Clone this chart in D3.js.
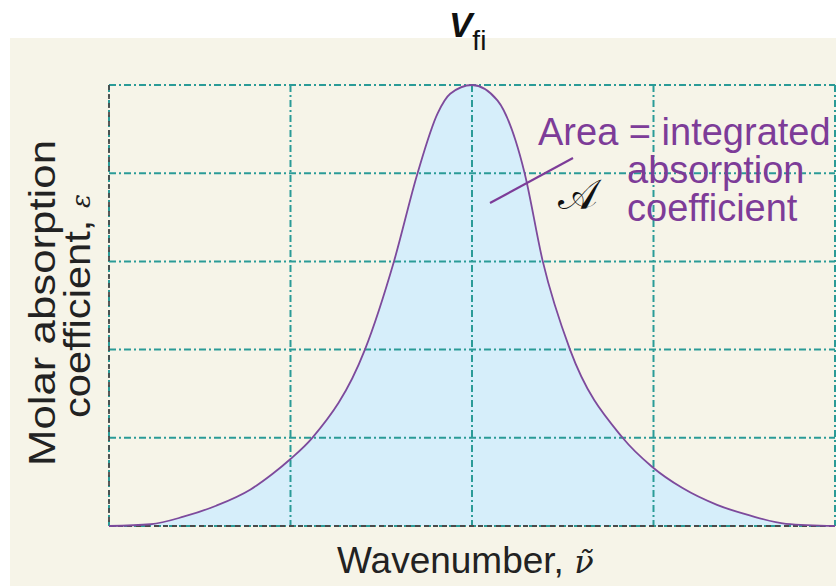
<!DOCTYPE html>
<html>
<head>
<meta charset="utf-8">
<script src="https://cdn.jsdelivr.net/npm/d3@7"></script>
<style>
  html, body { margin: 0; padding: 0; background: #ffffff; }
  svg { display: block; }
</style>
</head>
<body>
<svg></svg>
<script>
(function (d3) {
    'use strict';

    // band shape (x in grid units, y relative to peak)
    const wavenumber = [0, 0.23, 0.41, 0.59, 0.78, 0.9, 1.0, 1.12, 1.41, 1.57, 1.70, 1.81, 1.88, 2.0,
                        2.14, 2.24, 2.29, 2.39, 2.54, 2.83, 2.99, 3.16, 3.35, 3.53, 3.73, 4.0];
    const epsilon = [0, 0.004, 0.021, 0.046, 0.083, 0.118, 0.152, 0.2, 0.4, 0.6, 0.8, 0.935, 0.98, 1.0,
                     0.965, 0.874, 0.8, 0.6, 0.4, 0.2, 0.135, 0.086, 0.048, 0.024, 0.005, 0];
    const xGridTicks = [0, 1, 2, 3, 4];
    const yGridTicks = [0, 0.2, 0.4, 0.6, 0.8, 1.0];
    const annotationLines = ['Area = integrated', 'absorption', 'coefficient'];

    const width = 836;
    const height = 586;
    const margin = { top: 85, right: 1, bottom: 60, left: 109 };
    const innerWidth = width - margin.left - margin.right;
    const innerHeight = height - margin.top - margin.bottom;

    const svg = d3.select('svg')
        .attr('width', width)
        .attr('height', height);

    // cream panel
    svg.append('rect')
        .attr('x', 10).attr('y', 38)
        .attr('width', width - 10).attr('height', height - 38)
        .attr('fill', '#f6f4e8');

    const g = svg.append('g')
        .attr('transform', `translate(${margin.left}, ${margin.top})`);

    const x = d3.scaleLinear().domain([0, 4]).range([0, innerWidth]);
    const y = d3.scaleLinear().domain([0, 1]).range([innerHeight, 0]);

    const data = wavenumber.map((w, i) => ({ w, e: epsilon[i] }));

    const area = d3.area()
        .x(d => x(d.w))
        .y0(y(0))
        .y1(d => y(d.e))
        .curve(d3.curveMonotoneX);
    const line = d3.line()
        .x(d => x(d.w))
        .y(d => y(d.e))
        .curve(d3.curveMonotoneX);

    g.append('path')
        .datum(data)
        .attr('d', area)
        .attr('fill', '#d6eefa');

    // dash-dot grid
    const teal = '#2b9b97';
    const dashDot = '7,3,2,3';
    g.selectAll('line.vgrid').data(xGridTicks)
        .enter().append('line')
            .attr('class', 'vgrid')
            .attr('x1', d => x(d)).attr('x2', d => x(d))
            .attr('y1', 0).attr('y2', innerHeight)
            .attr('stroke', teal)
            .attr('stroke-width', 2)
            .attr('stroke-dasharray', dashDot);
    g.selectAll('line.hgrid').data(yGridTicks)
        .enter().append('line')
            .attr('class', 'hgrid')
            .attr('x1', 0).attr('x2', innerWidth)
            .attr('y1', d => y(d)).attr('y2', d => y(d))
            .attr('stroke', teal)
            .attr('stroke-width', 2)
            .attr('stroke-dasharray', dashDot);

    // dark dashed axes on left and bottom
    g.append('path')
        .attr('d', `M0,0V${innerHeight}H${innerWidth}`)
        .attr('fill', 'none')
        .attr('stroke', '#4a4a4a')
        .attr('stroke-width', 1.8)
        .attr('stroke-dasharray', '5,4');

    g.append('path')
        .datum(data)
        .attr('d', line)
        .attr('fill', 'none')
        .attr('stroke', '#7d4a9c')
        .attr('stroke-width', 1.8);

    // annotation
    const purple = '#7d3c98';
    g.append('line')
        .attr('x1', 490 - margin.left).attr('y1', 203 - margin.top)
        .attr('x2', 573 - margin.left).attr('y2', 158 - margin.top)
        .attr('stroke', purple)
        .attr('stroke-width', 2.2);

    const ann = svg.append('text')
        .attr('font-family', '"Liberation Sans", Arial, sans-serif')
        .attr('font-size', 38)
        .attr('fill', purple);
    ann.selectAll('tspan').data(annotationLines)
        .enter().append('tspan')
            .attr('x', (d, i) => i === 0 ? 538 : 627)
            .attr('y', (d, i) => 145 + i * 38)
            .text(d => d);

    svg.append('text')
        .attr('x', 558).attr('y', 209)
        .attr('font-family', '"DejaVu Serif", serif')
        .attr('font-size', 42)
        .attr('fill', '#111')
        .text('\u{1D49C}');

    // title
    const title = svg.append('text')
        .attr('x', 449).attr('y', 37)
        .attr('font-family', '"Liberation Sans", Arial, sans-serif')
        .attr('fill', '#111');
    title.append('tspan')
        .attr('font-size', 35)
        .attr('font-style', 'italic')
        .attr('font-weight', 'bold')
        .text('V');
    title.append('tspan')
        .attr('font-size', 28)
        .attr('dx', 0)
        .attr('dy', 13)
        .text('fi');

    // x label
    const xl = svg.append('text')
        .attr('x', 337).attr('y', 573)
        .attr('font-family', '"Liberation Sans", Arial, sans-serif')
        .attr('font-size', 37)
        .attr('fill', '#222');
    xl.append('tspan').text('Wavenumber, ');
    xl.append('tspan')
        .attr('font-family', '"DejaVu Serif", serif')
        .attr('font-style', 'italic')
        .attr('font-size', 32)
        .text('\u03BD\u0303');

    // y label, two lines
    svg.append('text')
        .attr('transform', 'translate(55, 466) rotate(-90)')
        .attr('font-family', '"Liberation Sans", Arial, sans-serif')
        .attr('font-size', 37)
        .attr('fill', '#222')
        .attr('textLength', 326)
        .attr('lengthAdjust', 'spacingAndGlyphs')
        .text('Molar absorption');

    const yl2 = svg.append('text')
        .attr('transform', 'translate(90, 418) rotate(-90)')
        .attr('font-family', '"Liberation Sans", Arial, sans-serif')
        .attr('font-size', 37)
        .attr('fill', '#222');
    yl2.append('tspan')
        .attr('textLength', 210)
        .attr('lengthAdjust', 'spacingAndGlyphs')
        .text('coefficient, ');
    yl2.append('tspan')
        .attr('font-family', '"DejaVu Serif", serif')
        .attr('font-style', 'italic')
        .attr('font-size', 26)
        .text('\u03B5');
}(d3));
</script>
</body>
</html>
